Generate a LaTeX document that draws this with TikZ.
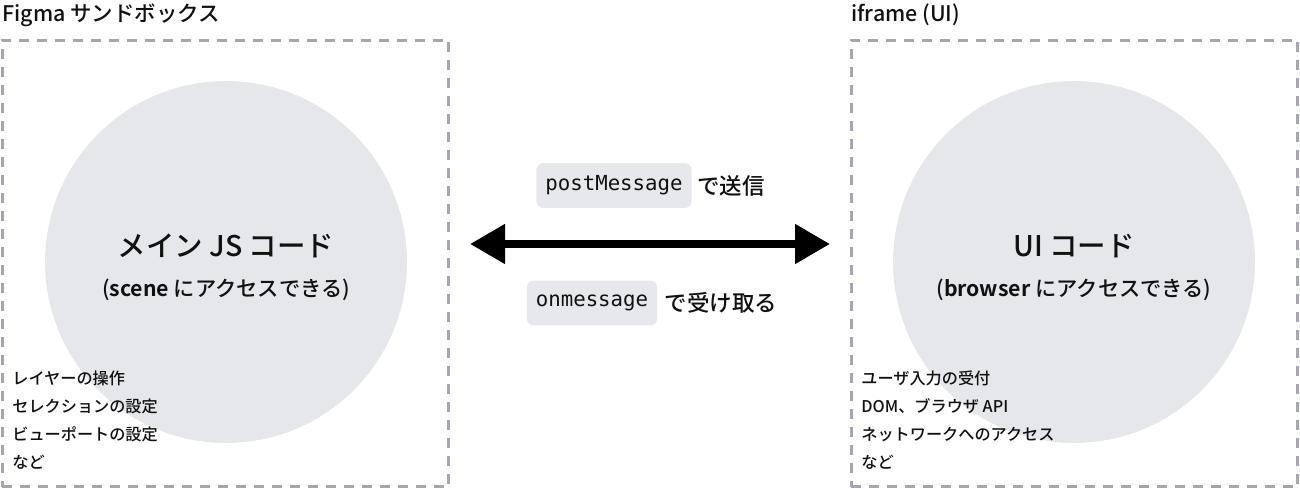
\documentclass[tikz,border=0pt]{standalone}
\usepackage{fontspec}
\setmainfont{Noto Sans CJK JP}[UprightFont={* Medium},BoldFont={* Bold}]
\setmonofont{DejaVu Sans Mono}
\usetikzlibrary{arrows.meta,positioning}
\definecolor{Ink}{HTML}{111111}
\definecolor{Frame}{HTML}{A3A7B3}
\definecolor{Disc}{HTML}{E6E7EB}
\definecolor{Chip}{HTML}{E7E8EC}

\begin{document}
\begin{tikzpicture}[
  x=0.02cm,y=-0.02cm,
  sandbox/.style={draw=Frame,line width=0.06cm,dash pattern=on 0.2cm off 0.16cm,minimum width=8.94cm,minimum height=8.94cm,inner sep=0pt},
  disc/.style={circle,fill=Disc,minimum size=7.24cm,inner sep=0pt},
  heading/.style={anchor=base west,inner sep=0pt,font=\fontsize{12.2}{14}\selectfont,text=Ink},
  title/.style={inner sep=0pt,font=\fontsize{16.2}{19}\selectfont,text=Ink},
  subtitle/.style={inner sep=0pt,font=\fontsize{12.1}{14}\selectfont,text=Ink},
  item/.style={anchor=west,inner sep=0pt,text height=0.8em,text depth=0.2em,font=\fontsize{9.2}{11}\selectfont,text=Ink},
  chip/.style={rounded corners=4pt,fill=Chip,inner xsep=0.18cm,minimum height=0.9cm,font=\ttfamily\fontsize{11.8}{14}\selectfont,text=Ink},
  note/.style={inner sep=0pt,font=\fontsize{12.8}{15}\selectfont,text=Ink},
  biarrow/.style={{Triangle[length=0.7cm,width=0.76cm]}-{Triangle[length=0.7cm,width=0.76cm]},line width=0.16cm,draw=black}
]
\useasboundingbox (0,0) rectangle (1300,489);

% frames and titles
\node[sandbox] (figma) at (225.5,263.5) {};
\node[sandbox] (iframe) at (1074.5,263.5) {};
\node[heading] (figmatitle) at (2,22) {Figma サンドボックス};
\node[heading] (iframetitle) at (851,22) {iframe (UI)};

% code areas
\node[disc] (main) at (226,262) {};
\node[disc] (ui) at (1074,262) {};
\node[title] (maintitle) at (226,246) {メイン JS コード};
\node[subtitle] (mainsub) at (226,290) {(\textbf{scene} にアクセスできる)};
\node[title] (uititle) at (1074,246) {UI コード};
\node[subtitle] (uisub) at (1074,290) {(\textbf{browser} にアクセスできる)};

% capabilities
\foreach \t [count=\i] in {レイヤーの操作,セレクションの設定,ビューポートの設定,など}
  \node[item] (mainitem\i) at (12,351+28*\i) {\t};
\foreach \t [count=\i] in {ユーザ入力の受付,DOM、ブラウザ API,ネットワークへのアクセス,など}
  \node[item] (uiitem\i) at (861,351+28*\i) {\t};

% messaging
\coordinate (sendend) at (470,244);
\coordinate (recvend) at (830,244);
\draw[biarrow] (sendend) -- (recvend);
\node[chip] (post) at (614,185.5) {postMessage};
\node[note,right=0.1cm of post] (postnote) {で送信};
\node[chip] (onmsg) at (592,303) {onmessage};
\node[note,right=0.14cm of onmsg] (onmsgnote) {で受け取る};
\end{tikzpicture}
\end{document}
